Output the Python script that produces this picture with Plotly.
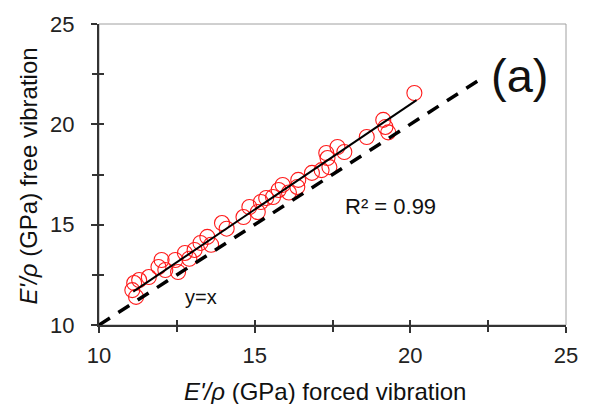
import plotly.graph_objects as go

# Data
forced = [20.13, 19.13, 19.20, 19.29, 18.60, 17.66, 17.88, 17.30, 17.34, 17.40,
          17.15, 16.84, 16.40, 16.37, 16.10, 15.90, 15.77, 15.59, 15.37, 15.20,
          15.10, 14.83, 14.64, 14.10, 13.95, 13.60, 13.48, 13.26, 13.07, 12.90,
          12.76, 12.54, 12.45, 12.13, 12.01, 11.91, 11.60, 11.29, 11.13, 11.07,
          11.19]
free = [21.56, 20.22, 19.87, 19.60, 19.37, 18.87, 18.62, 18.57, 18.32, 17.87,
        17.72, 17.58, 17.23, 16.88, 16.60, 16.98, 16.73, 16.38, 16.33, 16.13,
        15.63, 15.88, 15.38, 14.80, 15.08, 14.00, 14.39, 14.09, 13.74, 13.30,
        13.59, 12.64, 13.24, 12.74, 13.24, 12.89, 12.39, 12.24, 12.09, 11.74,
        11.40]
fit_x = [11.1, 20.2]
fit_y = [11.66, 21.21]
yx_x = [10, 22.2]
yx_y = [10, 22.2]
ticks = [10, 15, 20, 25]

font = "Liberation Sans, Arial, sans-serif"

fig = go.Figure()
fig.add_trace(go.Scatter(x=forced, y=free, mode="markers",
                         marker=dict(symbol="circle-open", size=15,
                                     color="#ff1a1a", line=dict(width=1.1, color="#ff1a1a")),
                         showlegend=False))
fig.add_trace(go.Scatter(x=fit_x, y=fit_y, mode="lines",
                         line=dict(color="black", width=2), showlegend=False))
fig.add_trace(go.Scatter(x=yx_x, y=yx_y, mode="lines",
                         line=dict(color="black", width=3.5, dash="13px,10px"),
                         showlegend=False))
# invisible trace to carry the inner-tick overlay axes
fig.add_trace(go.Scatter(x=[10], y=[10], xaxis="x2", yaxis="y2", mode="markers",
                         marker=dict(opacity=0), showlegend=False, hoverinfo="skip"))

axis_common = dict(range=[10, 25], tickvals=ticks, ticktext=[str(t) for t in ticks],
                   showgrid=False, zeroline=False, showline=True, linecolor="#333",
                   linewidth=2, ticks="outside", ticklen=6, tickwidth=1.5,
                   tickcolor="#333",
                   minor=dict(dtick=2.5, tick0=10, ticks="outside", ticklen=5,
                              tickwidth=1.5, tickcolor="#333", showgrid=False),
                   tickfont=dict(family=font, size=22, color="#222"))

inner = dict(range=[10, 25], tickvals=ticks, showticklabels=False, showgrid=False,
             zeroline=False, showline=False, ticks="inside", ticklen=5, tickwidth=1.5,
             tickcolor="#333",
             minor=dict(dtick=2.5, tick0=10, ticks="inside", ticklen=5,
                        tickwidth=1.5, tickcolor="#333", showgrid=False))

fig.update_layout(
    width=590, height=404,
    margin=dict(l=99, r=13, t=24, b=79),
    paper_bgcolor="white", plot_bgcolor="white",
    xaxis=dict(**axis_common, ticklabelstandoff=4),
    yaxis=dict(**axis_common, ticklabelstandoff=12),
    xaxis2=dict(**inner, overlaying="x", anchor="y2"),
    yaxis2=dict(**inner, overlaying="y", anchor="x2"),
    shapes=[dict(type="rect", xref="paper", yref="paper", x0=0, y0=0, x1=1, y1=1,
                 line=dict(color="#a0a0a0", width=1), layer="below")],
    annotations=[
        dict(text="<i>E'/ρ</i> (GPa) forced vibration", xref="paper", yref="paper",
             x=0.483, y=-0.222, xanchor="center", yanchor="middle", showarrow=False,
             font=dict(family=font, size=24, color="#111")),
        dict(text="<i>E'/ρ</i> (GPa) free vibration", xref="paper", yref="paper",
             x=-0.151, y=0.495, xanchor="center", yanchor="middle", showarrow=False,
             textangle=-90, font=dict(family=font, size=24, color="#111")),
        dict(text="R² = 0.99", x=19.35, y=15.93, showarrow=False,
             xanchor="center", yanchor="middle",
             font=dict(family=font, size=22, color="#111")),
        dict(text="y=x", x=13.29, y=11.4, showarrow=False,
             xanchor="center", yanchor="middle",
             font=dict(family=font, size=20, color="#111")),
        dict(text="(a)", x=23.5, y=22.45, showarrow=False,
             xanchor="center", yanchor="middle",
             font=dict(family=font, size=47, color="#111")),
    ],
)

fig.write_html("out.html", post_script="document.body.style.margin='0';",
               config={"displayModeBar": False})
